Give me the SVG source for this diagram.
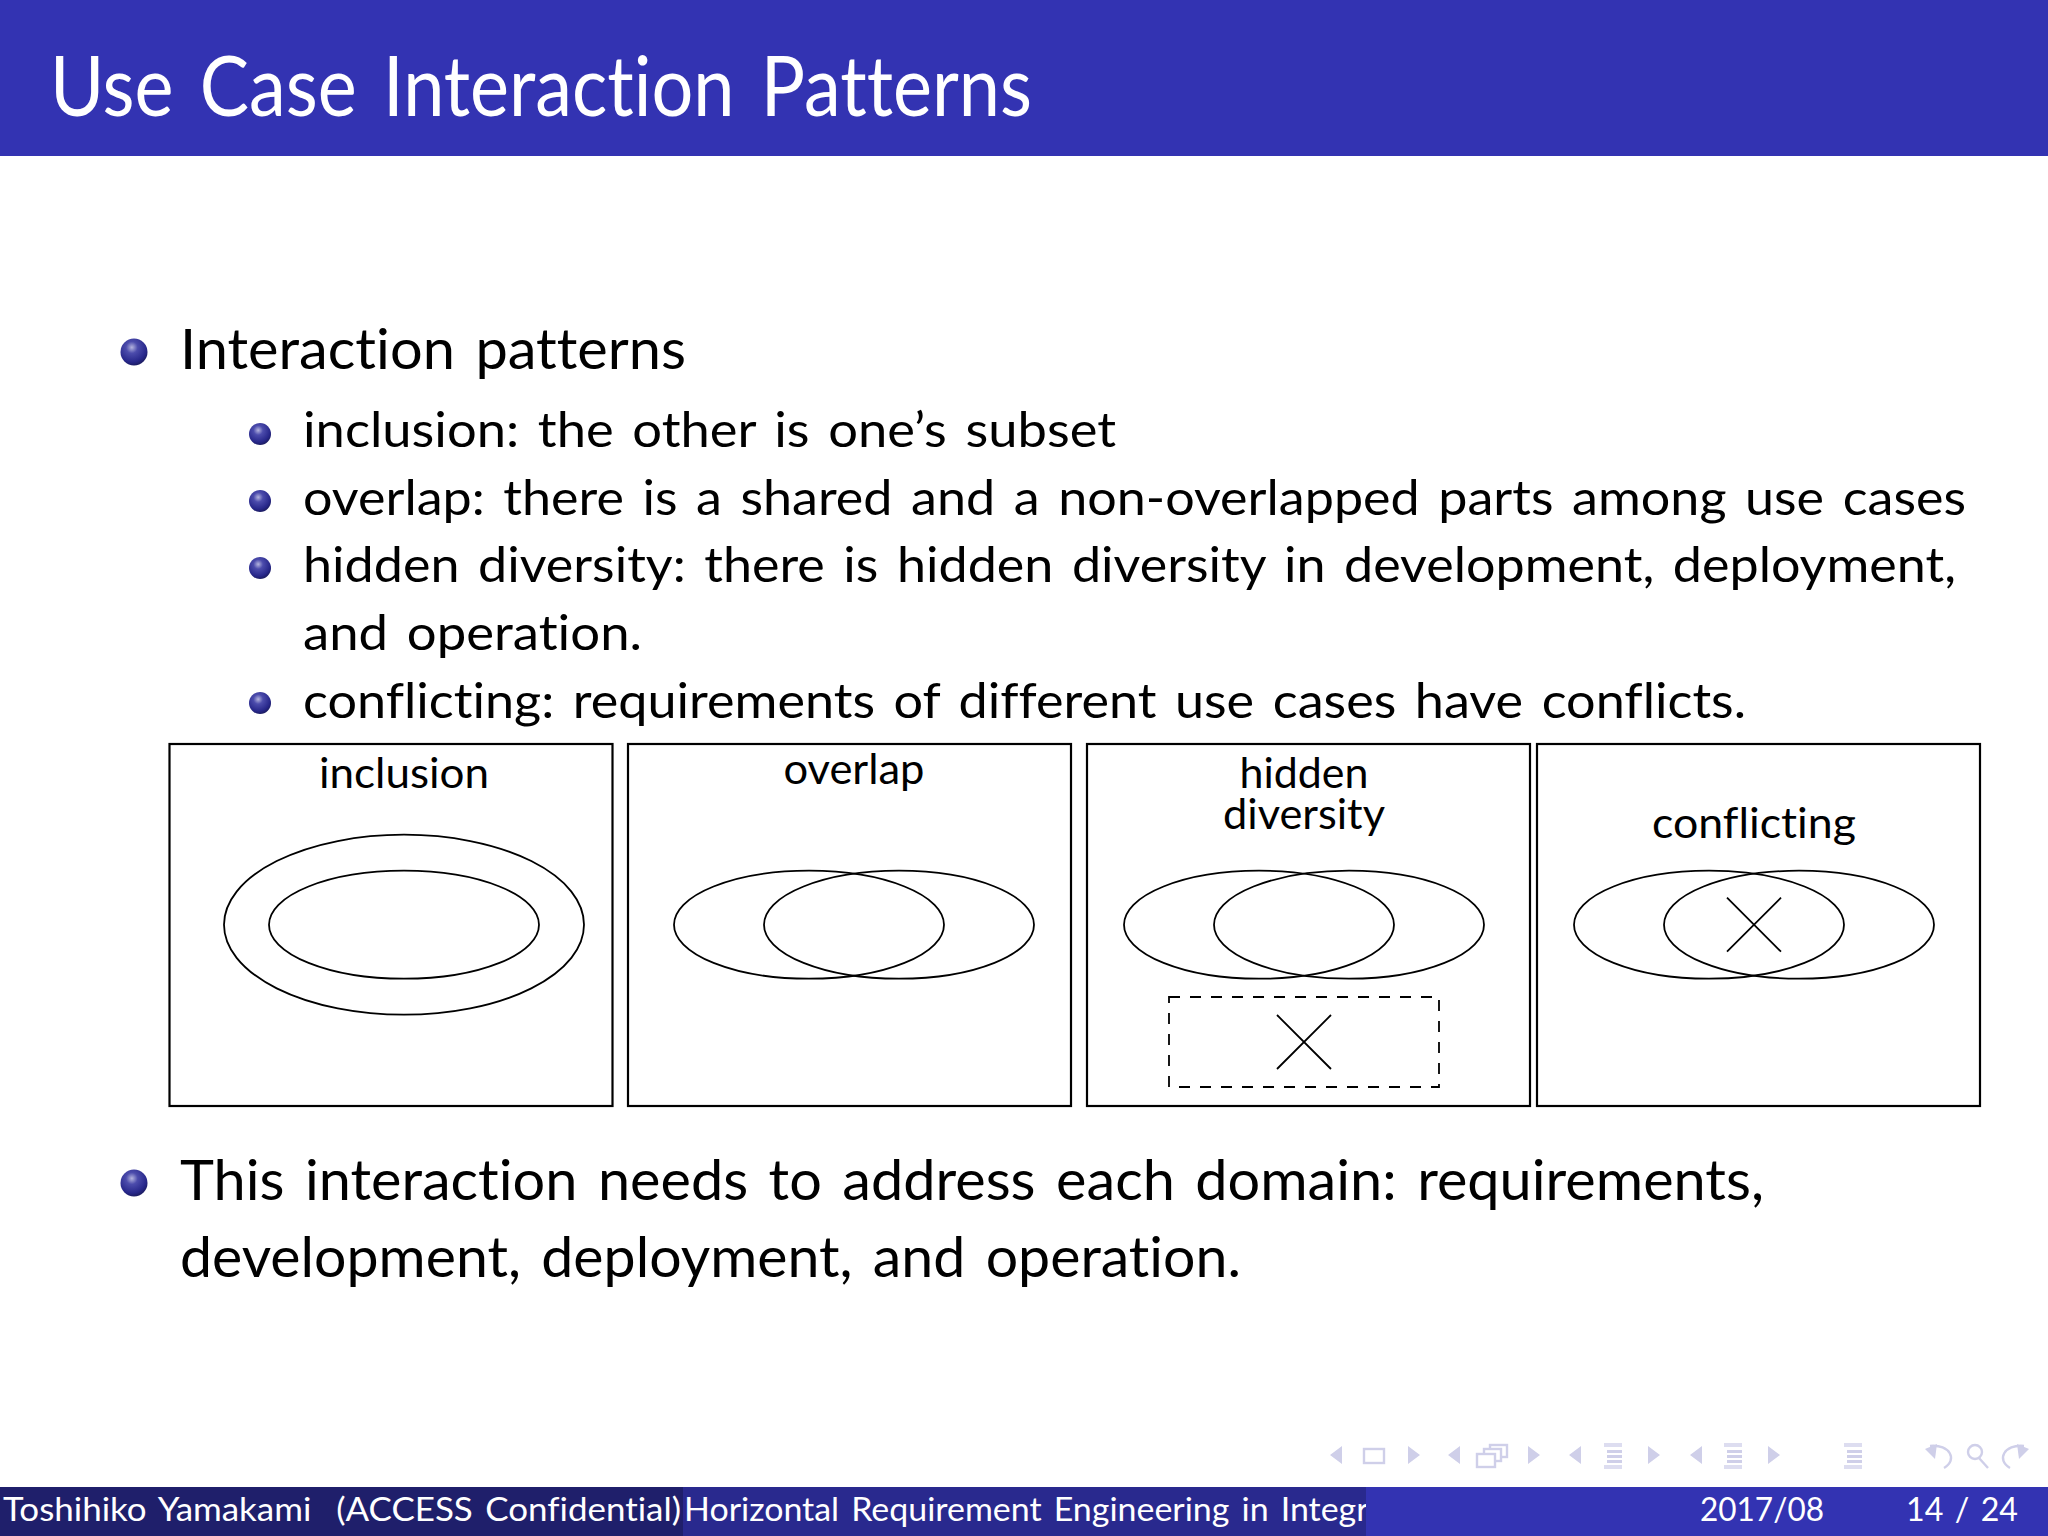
<svg xmlns="http://www.w3.org/2000/svg" width="2048" height="1536" viewBox="0 0 2048 1536">
<defs>
<radialGradient id="ball" cx="0.42" cy="0.33" r="0.72">
<stop offset="0" stop-color="#b4b4de"/><stop offset="0.3" stop-color="#4c4cac"/><stop offset="0.75" stop-color="#27278a"/><stop offset="1" stop-color="#181854"/>
</radialGradient>
<clipPath id="clipLeft"><rect x="0" y="1487" width="683" height="49"/></clipPath>
<clipPath id="clipMid"><rect x="683" y="1487" width="683" height="49"/></clipPath>
<g id="listIcon"><rect x="0" y="0" width="18" height="4" opacity="0.7"/><rect x="3" y="7" width="15" height="3"/><rect x="3" y="12" width="15" height="3"/><rect x="3" y="17" width="15" height="3"/><rect x="0" y="22" width="18" height="4" opacity="0.7"/></g>
</defs>
<style>
text{font-family:"Lato","Open Sans","Liberation Sans",sans-serif;fill:#000;font-variant-ligatures:none;word-spacing:0.1em;white-space:pre}
.t{font-size:83px;fill:#fff}
.m{font-size:57px}
.s{font-size:49px}
.l{font-size:42px;text-anchor:middle}
.f{font-size:32px;fill:#fff}
.box{fill:#fff;stroke:#000;stroke-width:2.2}
.e{fill:none;stroke:#000;stroke-width:1.8}
.d{fill:none;stroke:#000;stroke-width:1.8;stroke-dasharray:11 10}
.nav{fill:#cfcfe9;stroke:none}
.navl{fill:none;stroke:#cfcfe9;stroke-width:2.4}
</style>
<rect width="2048" height="1536" fill="#fff"/>
<g id="title-bar"><rect width="2048" height="156" fill="#3333b2"/>
<text class="t" x="50" y="116" textLength="982" lengthAdjust="spacingAndGlyphs">Use Case Interaction Patterns</text></g>
<g id="bullets">
<circle cx="134" cy="352" r="13.500" fill="url(#ball)"/>
<text class="m" x="180" y="369" textLength="506" lengthAdjust="spacingAndGlyphs">Interaction patterns</text>
<circle cx="260" cy="434" r="11" fill="url(#ball)"/>
<text class="s" x="303" y="447" textLength="813" lengthAdjust="spacingAndGlyphs">inclusion: the other is one’s subset</text>
<circle cx="260" cy="501" r="11" fill="url(#ball)"/>
<text class="s" x="303" y="515" textLength="1663" lengthAdjust="spacingAndGlyphs">overlap: there is a shared and a non-overlapped parts among use cases</text>
<circle cx="260" cy="568" r="11" fill="url(#ball)"/>
<text class="s" x="303" y="582" textLength="1653" lengthAdjust="spacingAndGlyphs">hidden diversity: there is hidden diversity in development, deployment,</text>
<text class="s" x="303" y="650" textLength="339" lengthAdjust="spacingAndGlyphs">and operation.</text>
<circle cx="260" cy="703" r="11" fill="url(#ball)"/>
<text class="s" x="303" y="718" textLength="1443" lengthAdjust="spacingAndGlyphs">conflicting: requirements of different use cases have conflicts.</text>
<circle cx="134" cy="1183" r="13.500" fill="url(#ball)"/>
<text class="m" x="180" y="1200" textLength="1584" lengthAdjust="spacingAndGlyphs">This interaction needs to address each domain: requirements,</text>
<text class="m" x="180" y="1277" textLength="1061" lengthAdjust="spacingAndGlyphs">development, deployment, and operation.</text>
</g>
<g id="panel-inclusion">
<rect class="box" x="169.500" y="744" width="443" height="362"/>
<text class="l" x="404" y="788" textLength="170" lengthAdjust="spacingAndGlyphs">inclusion</text>
<ellipse class="e" cx="404" cy="924.700" rx="180" ry="90"/>
<ellipse class="e" cx="404" cy="924.700" rx="135" ry="54"/>
</g>
<g id="panel-overlap">
<rect class="box" x="628" y="744" width="443" height="362"/>
<text class="l" x="854" y="784" textLength="141" lengthAdjust="spacingAndGlyphs">overlap</text>
<ellipse class="e" cx="809" cy="924.700" rx="135" ry="54"/>
<ellipse class="e" cx="899" cy="924.700" rx="135" ry="54"/>
</g>
<g id="panel-hidden-diversity">
<rect class="box" x="1087" y="744" width="443" height="362"/>
<text class="l" x="1304" y="788" textLength="129" lengthAdjust="spacingAndGlyphs">hidden</text>
<text class="l" x="1304" y="829" textLength="162" lengthAdjust="spacingAndGlyphs">diversity</text>
<ellipse class="e" cx="1259" cy="924.700" rx="135" ry="54"/>
<ellipse class="e" cx="1349" cy="924.700" rx="135" ry="54"/>
<rect class="d" x="1169" y="997" width="270" height="90"/>
<path class="e" d="M1277 1015L1331 1069M1331 1015L1277 1069"/>
</g>
<g id="panel-conflicting">
<rect class="box" x="1537" y="744" width="443" height="362"/>
<text class="l" x="1754" y="838" textLength="204" lengthAdjust="spacingAndGlyphs">conflicting</text>
<ellipse class="e" cx="1709" cy="924.700" rx="135" ry="54"/>
<ellipse class="e" cx="1799" cy="924.700" rx="135" ry="54"/>
<path class="e" d="M1727 897.700L1781 951.700M1781 897.700L1727 951.700"/>
</g>
<g id="navigation">
<path class="nav" d="M1342 1446V1464L1330 1455ZM1408 1446V1464L1420 1455ZM1460 1446V1464L1448 1455ZM1528 1446V1464L1540 1455ZM1581 1446V1464L1569 1455ZM1648 1446V1464L1660 1455ZM1702 1446V1464L1690 1455ZM1768 1446V1464L1780 1455Z"/>
<rect class="navl" x="1364" y="1449" width="20" height="14"/>
<rect class="navl" x="1490" y="1445" width="17" height="12"/>
<rect class="navl" x="1484" y="1449" width="17" height="12" style="fill:#fff"/>
<rect class="navl" x="1477" y="1454" width="18" height="13" style="fill:#fff"/>
<use href="#listIcon" x="1604" y="1443" class="nav"/>
<use href="#listIcon" x="1724" y="1443" class="nav"/>
<use href="#listIcon" x="1844" y="1443" class="nav"/>
<path class="navl" d="M1930 1446C1950 1444 1958 1460 1944 1468"/>
<path class="nav" d="M1925 1449L1937 1444L1935 1459Z"/>
<circle class="navl" cx="1975" cy="1452" r="7"/>
<path class="navl" d="M1979 1458L1988 1468"/>
<path class="navl" d="M2024 1446C2004 1444 1996 1460 2010 1468"/>
<path class="nav" d="M2029 1449L2017 1444L2019 1459Z"/>
</g>
<g id="footer">
<rect y="1487" width="2048" height="49" fill="#3333b2"/>
<rect y="1487" width="683" height="49" fill="#1f1f6b"/>
<rect x="683" y="1487" width="683" height="49" fill="#29298e"/>
<g clip-path="url(#clipLeft)"><text class="f" x="3" y="1521" textLength="678" lengthAdjust="spacingAndGlyphs">Toshihiko Yamakami  (ACCESS Confidential)</text></g>
<g clip-path="url(#clipMid)"><text class="f" x="684" y="1521" textLength="750" lengthAdjust="spacingAndGlyphs">Horizontal Requirement Engineering in Integrated</text></g>
<text class="f" x="1700" y="1521" textLength="124" lengthAdjust="spacingAndGlyphs">2017/08</text>
<text class="f" x="1906" y="1521" textLength="112" lengthAdjust="spacingAndGlyphs">14 / 24</text>
</g>
</svg>
